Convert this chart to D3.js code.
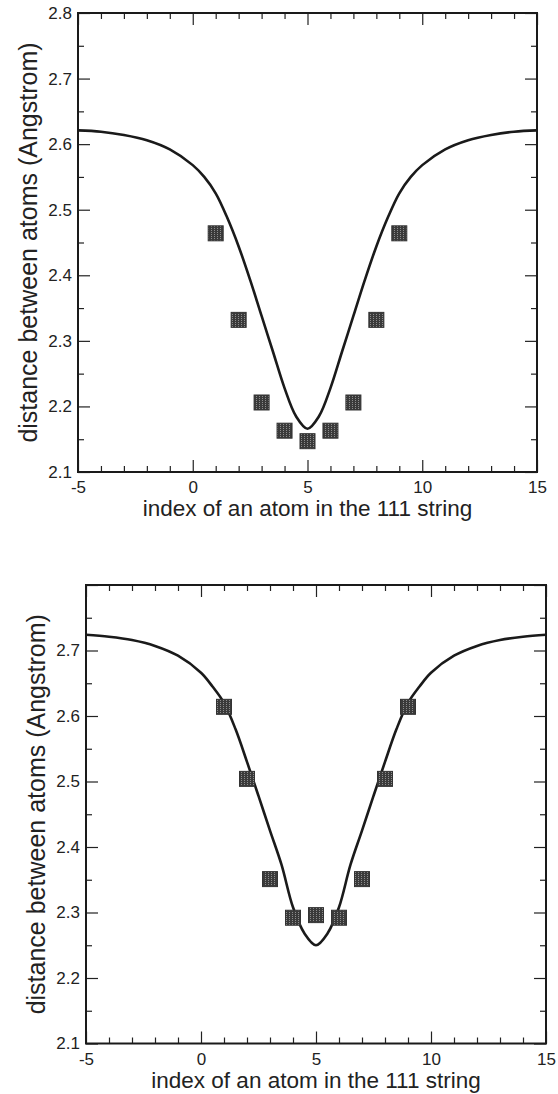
<!DOCTYPE html>
<html><head><meta charset="utf-8">
<script src="https://cdn.jsdelivr.net/npm/d3@7"></script>
<style>body{margin:0;background:#fff}svg{display:block}</style>
</head><body><svg id="c" width="558" height="1094"></svg>
<script>
// ---- data ----
const markerX = [1, 2, 3, 4, 5, 6, 7, 8, 9];
const markerTop = [2.464, 2.332, 2.206, 2.163, 2.147, 2.163, 2.206, 2.332, 2.464];
const markerBottom = [2.614, 2.504, 2.351, 2.292, 2.296, 2.292, 2.351, 2.504, 2.614];
const curveX = [-5, -4, -3, -2, -1, 0, 0.5, 1, 1.5, 2, 2.5, 3, 3.5, 4, 4.5, 5, 5.5, 6, 6.5, 7, 7.5, 8, 8.5, 9, 9.5, 10, 11, 12, 13, 14, 15];
const curveTop = [2.621, 2.619, 2.614, 2.606, 2.592, 2.568, 2.550, 2.525, 2.488, 2.444, 2.393, 2.338, 2.283, 2.228, 2.185, 2.166, 2.185, 2.228, 2.283, 2.338, 2.393, 2.444, 2.488, 2.525, 2.550, 2.568, 2.592, 2.606, 2.614, 2.619, 2.621];
const curveBottom = [2.724, 2.721, 2.716, 2.707, 2.692, 2.666, 2.645, 2.620, 2.580, 2.530, 2.478, 2.425, 2.373, 2.308, 2.268, 2.250, 2.268, 2.308, 2.373, 2.425, 2.478, 2.530, 2.580, 2.620, 2.645, 2.666, 2.692, 2.707, 2.716, 2.721, 2.724];
const xMajor = [-5, 0, 5, 10, 15];
const xMinor = [-4, -3, -2, -1, 1, 2, 3, 4, 6, 7, 8, 9, 11, 12, 13, 14];
const yMajorTop = [2.1, 2.2, 2.3, 2.4, 2.5, 2.6, 2.7, 2.8];
const yMajorBottom = [2.1, 2.2, 2.3, 2.4, 2.5, 2.6, 2.7];
const yMinor = [2.15, 2.25, 2.35, 2.45, 2.55, 2.65, 2.75];
const xTitle = "index of an atom in the 111 string";
const yTitle = "distance between atoms (Angstrom)";

const svg = d3.select("#c");
const defs = svg.append("defs");
const pat = defs.append("pattern").attr("id", "dots").attr("patternUnits", "userSpaceOnUse")
  .attr("width", 3).attr("height", 2);
pat.append("rect").attr("width", 3).attr("height", 2).attr("fill", "#3a3a3a");
pat.append("rect").attr("x", 1).attr("y", 0).attr("width", 1).attr("height", 1).attr("fill", "#8c8c8c");

const FONT = "'Liberation Sans', Arial, Helvetica, sans-serif";

function panel(left, top, right, bottom, yLabels, markers, curve) {
  const x = d3.scaleLinear().domain([-5, 15]).range([left, right]);
  const y = d3.scaleLinear().domain([2.1, 2.8]).range([bottom, top]);
  const g = svg.append("g");

  const fmtY = d => yLabels.includes(d) ? d.toFixed(1) : "";
  g.append("g").attr("transform", `translate(0,${bottom})`)
    .call(d3.axisBottom(x).tickValues(xMajor).tickSize(-12).tickPadding(9).tickFormat(d => String(d)));
  g.append("g").attr("transform", `translate(0,${bottom})`)
    .call(d3.axisBottom(x).tickValues(xMinor).tickSize(-6).tickFormat(""));
  g.append("g").attr("transform", `translate(0,${top})`)
    .call(d3.axisTop(x).tickValues(xMajor).tickSize(-12).tickFormat(""));
  g.append("g").attr("transform", `translate(0,${top})`)
    .call(d3.axisTop(x).tickValues(xMinor).tickSize(-6).tickFormat(""));
  g.append("g").attr("transform", `translate(${left},0)`)
    .call(d3.axisLeft(y).tickValues(yMajorTop).tickSize(-12).tickPadding(6).tickFormat(fmtY));
  g.append("g").attr("transform", `translate(${left},0)`)
    .call(d3.axisLeft(y).tickValues(yMinor).tickSize(-6).tickFormat(""));
  g.append("g").attr("transform", `translate(${right},0)`)
    .call(d3.axisRight(y).tickValues(yMajorTop).tickSize(-12).tickFormat(""));
  g.append("g").attr("transform", `translate(${right},0)`)
    .call(d3.axisRight(y).tickValues(yMinor).tickSize(-6).tickFormat(""));
  g.selectAll(".domain").remove();
  g.selectAll(".tick line").attr("stroke", "#222").attr("stroke-width", 1.2);
  g.selectAll(".tick text").attr("font-family", FONT).attr("font-size", 17).attr("fill", "#222");

  g.append("rect").attr("x", left).attr("y", top).attr("width", right - left).attr("height", bottom - top)
    .attr("fill", "none").attr("stroke", "#1a1a1a").attr("stroke-width", 2);

  const line = d3.line().x((d, i) => x(curveX[i])).y(d => y(d)).curve(d3.curveCatmullRom.alpha(0.5));
  g.append("path").attr("d", line(curve)).attr("fill", "none").attr("stroke", "#1a1a1a").attr("stroke-width", 2.6);

  const s = 15;
  g.selectAll("rect.m").data(markers).enter().append("rect").attr("class", "m")
    .attr("x", (d, i) => x(markerX[i]) - s / 2).attr("y", d => y(d) - s / 2)
    .attr("width", s).attr("height", s).attr("fill", "url(#dots)").attr("stroke", "#333").attr("stroke-width", 1);

  g.append("text").attr("x", (left + right) / 2).attr("y", bottom + 44).attr("text-anchor", "middle")
    .attr("font-family", FONT).attr("font-size", 22.5).attr("fill", "#222").text(xTitle);
  g.append("text").attr("transform", `translate(${left - 41},${(top + bottom) / 2}) rotate(-90)`)
    .attr("text-anchor", "middle").attr("font-family", FONT).attr("font-size", 25).attr("fill", "#222").text(yTitle);
}

panel(78, 13, 537, 472, yMajorTop, markerTop, curveTop);
panel(86, 585, 546, 1043.5, yMajorBottom, markerBottom, curveBottom);
</script></body></html>
